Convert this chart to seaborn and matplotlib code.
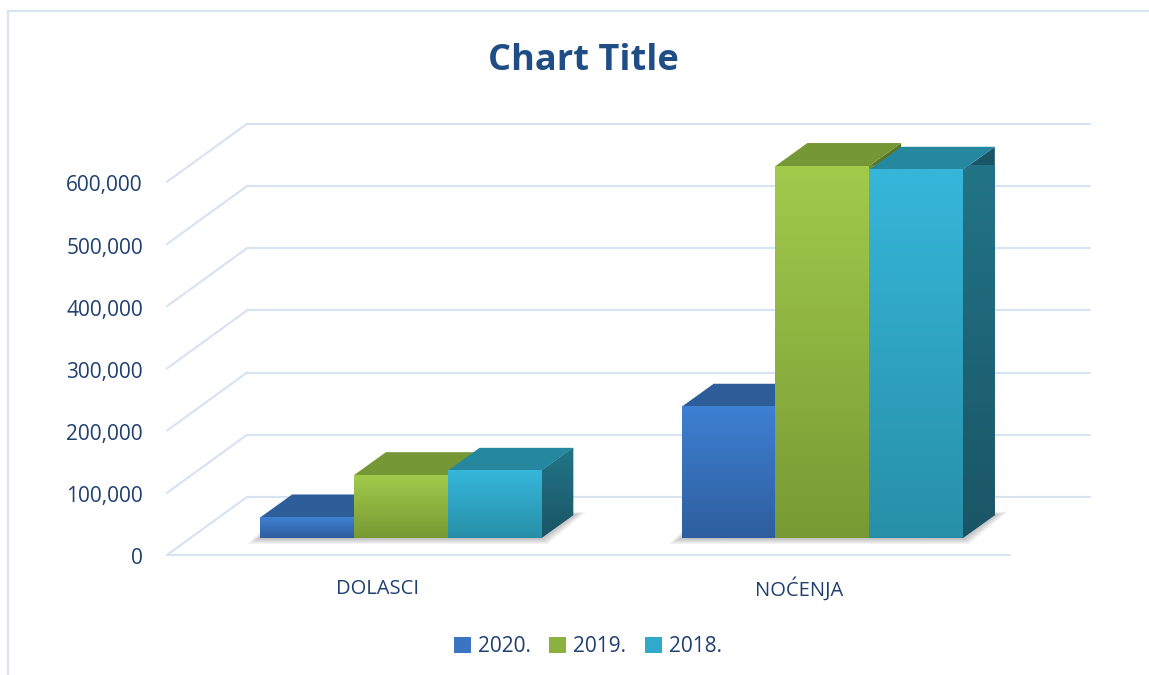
import numpy as np
import pandas as pd
import matplotlib.pyplot as plt
import seaborn as sns
from matplotlib.patches import Polygon, Patch
from matplotlib.lines import Line2D

categories = ["DOLASCI", "NOĆENJA"]
years = ["2020.", "2019.", "2018."]
v2020 = [33000, 211000]
v2019 = [101000, 598000]
v2018 = [108000, 592000]
yticks = [0, 100000, 200000, 300000, 400000, 500000, 600000]

_df = pd.DataFrame({
    "kategorija": categories * 3,
    "godina": [years[0]] * 2 + [years[1]] * 2 + [years[2]] * 2,
    "vrijednost": v2020 + v2019 + v2018,
})

# front colour (top, bottom), top face, side face (top, bottom)
front_cols = [("#3E80D2", "#2E5E9E"), ("#A1CA4B", "#789A34"), ("#36B6DA", "#2790A8")]
top_cols = ["#2D5E9A", "#769736", "#25889F"]
side_cols = [("#2E5E9A", "#234A7A"), ("#6E8E30", "#5A7526"), ("#237589", "#1A5565")]
legend_cols = ["#3A74C2", "#8DB13E", "#30AACB"]
grid_col = "#D6E3F3"
text_col = "#1F3F6E"

sns.set_style("white")
plt.rcParams['font.family'] = ['Open Sans', 'DejaVu Sans']

W, H = 1149, 675
fig = plt.figure(figsize=(W / 100, H / 100), dpi=100)
ax_w, ax_h = 843, 373.2
ax = fig.add_axes([190 / W, 137 / H, ax_w / W, ax_h / H])

sns.barplot(data=_df, x="kategorija", y="vrijednost", hue="godina",
            palette=legend_cols, width=0.667, saturation=1, legend=False, ax=ax)

ax.set_xlim(-0.5, 1.5)
ax.set_ylim(0, 600000)
sx = ax_w / 2.0
sy = ax_h / 600000.0


def off(px, py):
    return px / sx, py / sy


fx, fy = off(-23, -17)   # front edge of floor / side wall
bx, by = off(57, 41)     # back wall
dx, dy = off(32, 23)     # bar depth

# back wall, side wall, floor
for v in yticks:
    ax.plot([-0.5 + bx, 1.5 + bx], [v + by, v + by], color=grid_col, lw=1.5, clip_on=False, zorder=0)
    ax.plot([-0.5 + fx, -0.5 + bx], [v + fy, v + by], color=grid_col, lw=1.5, clip_on=False, zorder=0)
    ax.text(-0.5 + fx + off(-24, 0)[0], v + fy + off(0, -4)[1], f"{v:,}", ha="right", va="center",
            fontsize=15, color=text_col)
ax.plot([-0.5 + fx, 1.5 + fx], [fy, fy], color=grid_col, lw=1.5, clip_on=False, zorder=0)

for c, name in enumerate(categories):
    ax.text(c + fx, fy + off(0, -34)[1], name, ha="center", va="center", fontsize=14.5, color=text_col)

# soft shadow under each group
for c in range(len(categories)):
    gx0 = c - 0.667 / 2
    gx1 = c + 0.667 / 2
    for k in range(1, 6):
        ex, ey = off(2.5 * k, 2.0 * k)
        sh = Polygon([(gx0 - ex, -ey * 0.6), (gx1 + ex * 0.5, -ey * 0.6),
                      (gx1 + dx + ex, dy + ey * 0.3), (gx0 + dx - ex, dy + ey * 0.3)],
                     closed=True, facecolor="black", edgecolor="none", alpha=0.05,
                     clip_on=False, zorder=1)
        ax.add_patch(sh)

# 3D faces and gradients
for i, cont in enumerate(ax.containers):
    for bar in cont:
        x0 = bar.get_x()
        x1 = x0 + bar.get_width()
        h = bar.get_height()
        bar.set_zorder(4 + 3 * i)
        bar.set_edgecolor("none")
        bar.set_clip_on(False)

        top_c, bot_c = [np.array(plt.matplotlib.colors.to_rgb(cc)) for cc in front_cols[i]]
        t = np.linspace(0, 1, 64)[:, None, None]
        grad = top_c * (1 - t) + bot_c * t
        im = ax.imshow(grad, extent=(x0, x1, 0, h), aspect="auto", zorder=4 + 3 * i,
                       interpolation="bilinear")
        im.set_clip_on(False)

        top_face = Polygon([(x0, h), (x1, h), (x1 + dx, h + dy), (x0 + dx, h + dy)], closed=True,
                           facecolor=top_cols[i], edgecolor="none", clip_on=False, zorder=3 + 3 * i)
        ax.add_patch(top_face)

        side = Polygon([(x1, 0), (x1 + dx, dy), (x1 + dx, h + dy), (x1, h)], closed=True,
                       facecolor=side_cols[i][1], edgecolor="none", clip_on=False, zorder=2 + 3 * i)
        ax.add_patch(side)
        s_top, s_bot = [np.array(plt.matplotlib.colors.to_rgb(cc)) for cc in side_cols[i]]
        sgrad = s_top * (1 - t) + s_bot * t
        sim = ax.imshow(sgrad, extent=(x1, x1 + dx, 0, h + dy), aspect="auto",
                        zorder=2 + 3 * i, interpolation="bilinear")
        sim.set_clip_path(side)

ax.set_xlim(-0.5, 1.5)
ax.set_ylim(0, 600000)
ax.set_axis_off()

fig.text(583 / W, 1 - 61 / H, "Chart Title", ha="center", va="center",
         fontsize=26, fontweight="bold", color="#1F4E87")

handles = [Patch(facecolor=legend_cols[i], edgecolor="none", label=years[i]) for i in range(3)]
fig.legend(handles=handles, loc="center", bbox_to_anchor=(588 / W, 1 - 647 / H), ncol=3,
           frameon=False, fontsize=15, handlelength=0.8, handleheight=0.8,
           handletextpad=0.35, columnspacing=0.9, labelcolor=text_col)

# chart border
fig.add_artist(Line2D([8 / W, 1.0], [1 - 11 / H, 1 - 11 / H], transform=fig.transFigure,
                      color=grid_col, lw=1.5))
fig.add_artist(Line2D([8 / W, 8 / W], [0, 1 - 11 / H], transform=fig.transFigure,
                      color=grid_col, lw=1.5))

fig.savefig("out.png", dpi=100, facecolor="white")
